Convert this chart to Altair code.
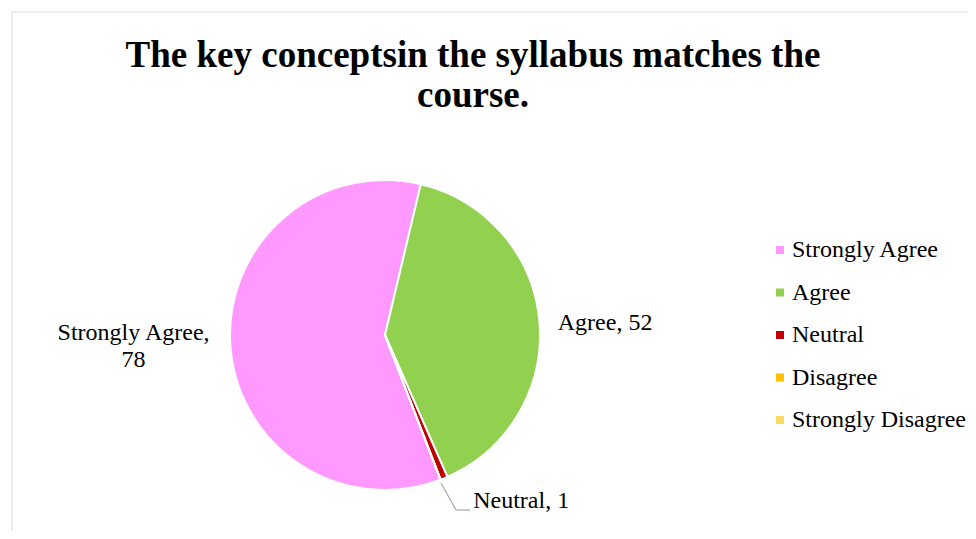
import math
import altair as alt
import pandas as pd

categories = ["Strongly Agree", "Agree", "Neutral", "Disagree", "Strongly Disagree"]
values = [78, 52, 1, 0, 0]
colors = ["#FF99FF", "#92D050", "#C00000", "#FFC000", "#FFD966"]
title_lines = ["The key conceptsin the syllabus matches the", "course."]

df = pd.DataFrame({"category": categories, "value": values, "idx": list(range(len(categories)))})

FONT = "Liberation Serif"
T0 = math.radians(159)
theta_scale = alt.Scale(domain=[0, 1], range=[T0, T0 + 2 * math.pi])
CX, CY, R = 377, 327, 155

base = alt.Chart(df).transform_joinaggregate(
    total="sum(value)"
).transform_window(
    cum="sum(value)", sort=[alt.SortField("idx")], frame=[None, 0]
).transform_calculate(
    end="datum.cum / datum.total",
    start="(datum.cum - datum.value) / datum.total",
    mid="(datum.cum - datum.value / 2) / datum.total",
    label="datum.category + ', ' + datum.value",
)

color = alt.Color(
    "category:N",
    scale=alt.Scale(domain=categories, range=colors),
    sort=categories,
    legend=alt.Legend(
        title=None, orient="none", legendX=760, legendY=230,
        symbolType="square", symbolSize=64, symbolStrokeWidth=0,
        labelFont=FONT, labelFontSize=24, labelColor="#000000",
        labelOffset=0, rowPadding=18.5, padding=0, labelLimit=400,
    ),
)

arcs = base.mark_arc(outerRadius=R, stroke="white", strokeWidth=2).encode(
    theta=alt.Theta("start:Q", scale=theta_scale),
    theta2="end:Q",
    color=color,
    x=alt.value(CX), y=alt.value(CY),
)

def label(cat, radius, dx=0, dy=0, align="center", text=None):
    enc = dict(
        theta=alt.Theta("mid:Q", scale=theta_scale),
        x=alt.value(CX), y=alt.value(CY),
    )
    if text is None:
        enc["text"] = alt.Text("label:N")
    else:
        enc["text"] = alt.value(text)
    return base.transform_filter(alt.datum.category == cat).mark_text(
        radius=radius, font=FONT, fontSize=24, color="#000000",
        align=align, baseline="middle", dx=dx, dy=dy, lineHeight=27,
    ).encode(**enc)

sa_label = label("Strongly Agree", 252, dy=-19, text=["Strongly Agree,", "78"])
ag_label = label("Agree", 221, dy=8)
ne_label = label("Neutral", 208, dx=9, dy=-26, align="left")

leader1 = alt.Chart(pd.DataFrame({"a": [0]})).mark_rule(color="#A6A6A6", strokeWidth=1.2).encode(
    x=alt.value(433), y=alt.value(475), x2=alt.value(448), y2=alt.value(502))
leader2 = alt.Chart(pd.DataFrame({"a": [0]})).mark_rule(color="#A6A6A6", strokeWidth=1.2).encode(
    x=alt.value(448), y=alt.value(502), x2=alt.value(462), y2=alt.value(502))

frame_top = alt.Chart(pd.DataFrame({"a": [0]})).mark_rule(color="#D9D9D9", strokeWidth=1).encode(
    x=alt.value(4), x2=alt.value(1000), y=alt.value(4))
frame_left = alt.Chart(pd.DataFrame({"a": [0]})).mark_rule(color="#D9D9D9", strokeWidth=1).encode(
    x=alt.value(4), y=alt.value(4), y2=alt.value(1000))

title = alt.Chart(pd.DataFrame({"a": [0]})).mark_text(
    text=title_lines, font=FONT, fontSize=37, fontWeight="bold", color="#000000",
    align="center", baseline="alphabetic", lineHeight=40,
).encode(x=alt.value(465), y=alt.value(59))

chart = alt.layer(
    frame_top, frame_left, arcs, sa_label, ag_label, ne_label, leader1, leader2, title
).properties(
    width=960, height=523, autosize=alt.AutoSizeParams(type="none"), padding=0,
    view=alt.ViewBackground(stroke="transparent", strokeWidth=0),
).configure_view(strokeWidth=0, stroke="transparent").configure(background="white")

chart.save("out.html", embed_options={"renderer": "svg", "actions": False})
